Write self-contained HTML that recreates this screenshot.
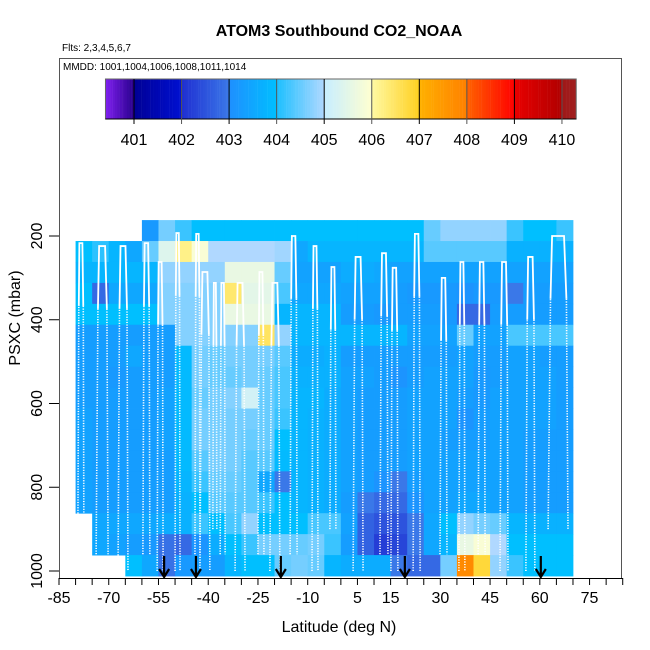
<!DOCTYPE html>
<html><head><meta charset="utf-8"><style>
html,body{margin:0;padding:0;background:#fff;}
svg{display:block;font-family:"Liberation Sans",Arial,sans-serif;}
</style></head><body>
<svg id="chart" width="650" height="650" viewBox="0 0 650 650">
<text x="339" y="36" text-anchor="middle" font-size="16" font-weight="bold">ATOM3 Southbound CO2_NOAA</text>
<text x="62" y="51" font-size="10">Flts: 2,3,4,5,6,7</text>
<text x="63" y="70" font-size="10">MMDD: 1001,1004,1006,1008,1011,1014</text>
<g id="heat"></g>
<g id="prof"></g>
<g id="arrows"></g>
<g id="cbar"></g>
<rect x="59.5" y="58.5" width="562" height="520" fill="none" stroke="#555" stroke-width="1"/>
<g id="xaxis"></g>
<g id="yaxis"></g>
<text x="339" y="632" text-anchor="middle" font-size="16">Latitude (deg N)</text>
<text transform="translate(20,318) rotate(-90)" text-anchor="middle" font-size="16">PSXC (mbar)</text>
</svg>
<script>
const latStart=-80, latStep=5;
const pStart=162, pStep=50;
const N=null;
const row0=[N,N,N,N,403.2,404.6,404.2,404,404,404,404,404,404,404,404,404,404,404,404,404,404,404.5,404.8,404.8,404.8,404.8,404.2,404,404,404.2];
const row1=[404,404.1,403.8,403.5,404.5,405.4,406.2,405.9,405,405,405,405,404.9,403.5,403.8,403.8,403.8,403.8,403.8,403.8,403.8,404.4,404.4,404.4,404.4,404.4,403.7,403.7,403.7,403.7];
const row2=[403.8,403.8,403.8,403.8,403.8,404.8,404.8,404.8,404.8,405.6,405.6,405.6,404.5,403.4,403.4,403.4,403.6,403.6,403.5,403.4,403.4,403.4,403.4,403.4,403.4,403.4,403.4,403.4,403.4,403.4];
const row3=[404,402.8,403.5,403.5,403.5,404.7,404.7,404.7,404.7,406.4,405.5,405.5,404.3,403.5,403.5,403.5,403.4,403.4,403.4,403.3,403.2,403.2,403.2,403.1,403.2,403.2,403.0,403.3,403.3,403.3];
const row4=[404,404,404,404,404,404.7,404.7,404.7,404.7,405.6,405.6,405.6,403.8,403.8,403.8,403.8,403.3,403.3,403.2,403.3,403.3,403.3,403.2,402.8,402.8,403.3,403.3,403.3,403.3,403.3];
const row5=[403.3,403.3,403.3,403.3,403.3,403.3,404.7,404.7,404.7,404.7,404.7,406.5,404.8,403.8,403.8,403.8,403.8,403.8,403.8,403.8,403.4,403.4,403.4,404.5,403.4,403.4,404.3,404.3,404.3,404.3];
const row6=[403.3,403.3,403.3,403.5,403.3,403.3,403.9,404.6,404.5,404.6,404.6,404.6,404.4,403.6,403.6,403.7,403.3,403.3,403.3,403.3,403.3,403.3,403.3,403.4,403.3,403.3,403.4,403.4,403.3,403.3];
const row7=[403.3,403.3,403.2,403.3,403.3,403.3,403.9,404.6,404.5,404.5,404.6,404.5,404.3,403.7,403.7,403.7,403.4,403.4,403.3,403.1,403.3,403.4,403.4,403.4,403.2,403.3,403.4,403.4,403.4,403.3];
const row8=[403.3,403.3,403.3,403.3,403.3,403.4,403.9,404.5,404.6,404.7,405.2,404.5,404.3,403.8,403.8,403.6,403.4,403.3,403.3,403.3,403.4,403.4,403.4,403.3,403.2,403.4,403.4,403.4,403.4,403.3];
const row9=[403.4,403.3,403.3,403.3,403.3,403.4,403.9,404.6,404.6,404.6,404.6,404.5,404.2,403.8,403.7,403.6,403.4,403.3,403.3,403.3,403.4,403.4,403.4,403.1,403.3,403.4,403.4,403.4,403.4,403.3];
const row10=[403.4,403.3,403.3,403.3,403.3,403.4,403.9,404.6,404.6,404.6,404.5,404.5,404,403.8,403.7,403.6,403.4,403.3,403.3,403.3,403.4,403.4,403.3,403.3,403.3,403.4,403.4,403.3,403.3,403.3];
const row11=[403.4,403.3,403.3,403.3,403.3,403.3,403.9,404.4,404.6,404.6,404.4,404.4,403.9,403.8,403.7,403.6,403.4,403.3,403.3,403.3,403.4,403.4,403.4,403.4,403.4,403.4,403.4,403.3,403.3,403.3];
const row12=[403.4,403.3,403.3,403.3,403.3,403.3,403.8,404.2,404.5,404.5,404.4,403.5,403.0,403.8,403.7,403.6,403.4,403.3,403.1,403.0,403.3,403.4,403.4,403.4,403.4,403.4,403.4,403.3,403.3,403.3];
const row13=[403.4,403.3,403.3,403.3,403.3,403.3,403.7,404.0,404.4,404.4,404.4,404.2,404.0,403.8,403.7,403.6,403.3,403.0,402.8,402.8,403.1,403.4,403.4,403.5,403.5,403.4,403.4,403.3,403.3,403.3];
const row14=[N,403.5,403.5,403.5,403.5,403.6,403.7,404.2,404.0,404.3,404.8,404.0,404.0,404.0,404.3,404.3,403.4,402.7,402.5,402.5,403.0,403.5,404.0,404.8,404.6,404.5,403.8,403.7,403.7,403.7];
const row15=[N,403.5,403.4,403.3,403.2,402.9,402.8,403.1,403.6,404.0,404.2,404.6,404.6,404.5,404.6,404.2,403.3,402.7,402.2,402.3,403.0,403.5,403.8,405.6,405.9,405.0,404.0,404.0,404.0,404.0];
const row16=[N,N,N,404,403.5,402.9,403.2,403.3,403.3,403.8,404,404,404.5,404.6,404.5,403.8,403.6,403.6,403.6,403.0,402.8,402.8,404.6,407.8,406.8,404.8,404.2,404,404,404];
const rows=[row0,row1,row2,row3,row4,row5,row6,row7,row8,row9,row10,row11,row12,row13,row14,row15,row16];

const profA=[-79.3,-73.8,-67.2,-59.7,-55.4,-50,-44,-42.5,-38.6,-36.4,-31.9,-25,-21.4,-15.3,-8.7,-3.3,3.7,11.8,15.1,21.8,29.9,35.6,41.4,48,55.8,62.5];
const profB=[-77.5,-70.2,-64.2,-57.6,-53.6,-48.5,-42.5,-39.5,-37.4,-34.9,-28.9,-23.2,-18.4,-13.2,-6.9,-1.5,6.7,14.2,17.2,23.9,32,37.4,43.5,50.4,58.5,68.5];
const profTop=[217,224,224,217,262,193,195,286,312,312,312,286,312,200,224,274,250,241,276,195,300,262,262,262,250,200];
const profBot=[900,960,1000,960,1000,1000,960,1000,900,960,1000,960,1000,960,1000,900,1000,960,1000,1000,960,1000,960,1000,1000,900];

const arrowLat=[-53.3,-43.7,-18.1,19.3,60.3];
const xTicks=[-85,-70,-55,-40,-25,-10,5,15,30,45,60,75];
const yTicks=[200,400,600,800,1000];
const cbTicks=[401,402,403,404,405,406,407,408,409,410];

const NS="http://www.w3.org/2000/svg";
const X=lat=>59+(lat+85)*3.316;
const Y=p=>236+(p-200)*0.41875;
const CX=v=>134+(v-401)*47.55;
function mk(tag,attrs,parent){const e=document.createElementNS(NS,tag);for(const k in attrs)e.setAttribute(k,attrs[k]);parent.appendChild(e);return e;}
const stops=[[400.4,[128,32,240]],[401,[40,0,140]],[401.02,[0,0,150]],[402,[0,16,210]],[402.02,[32,48,210]],[403,[58,120,232]],[403.02,[30,144,255]],[404,[0,191,255]],[404.02,[32,192,255]],[405,[176,216,255]],[405.02,[200,238,255]],[406,[255,255,208]],[406.02,[255,248,160]],[407,[255,208,32]],[407.02,[255,176,0]],[408,[255,128,0]],[408.02,[255,96,0]],[409,[255,0,0]],[409.02,[232,0,0]],[410,[176,0,0]],[410.02,[160,24,24]],[410.3,[160,32,32]]];
function col(v){if(v<=stops[0][0])return 'rgb('+stops[0][1]+')';for(let i=1;i<stops.length;i++){if(v<=stops[i][0]){const a=stops[i-1],b=stops[i];const t=(v-a[0])/(b[0]-a[0]);const c=a[1].map((x,j)=>Math.round(x+(b[1][j]-x)*t));return 'rgb('+c.join(',')+')';}}return 'rgb('+stops[stops.length-1][1]+')';}

const heat=document.getElementById('heat');
rows.forEach((r,ri)=>{r.forEach((v,ci)=>{if(v===null)return;
 const x0=X(latStart+ci*latStep),x1=X(latStart+(ci+1)*latStep);
 const y0=Y(pStart+ri*pStep),y1=Y(pStart+(ri+1)*pStep);
 const c=mk('rect',{x:x0.toFixed(2),y:y0.toFixed(2),width:(x1-x0+0.4).toFixed(2),height:(y1-y0+0.4).toFixed(2),fill:col(v)},heat);
 
 
});});

const prof=document.getElementById('prof');
profA.forEach((a,i)=>{const b=profB[i],t=profTop[i],bt=profBot[i];
 const d=Math.min(1.2,(b-a)/4);
 const mid=Math.min(bt,t+150);
 const up=mk('path',{d:`M${X(a)},${Y(bt)} L${X(a+d*0.6)},${Y(mid)}`,stroke:'#fff','stroke-width':1.6,'stroke-dasharray':'1.2 1.4',fill:'none'},prof);
 
 
 const top=mk('path',{d:`M${X(a+d*0.6)},${Y(mid)} L${X(a+d)},${Y(t)} L${X(b-d)},${Y(t)} L${X(b-d*0.4)},${Y(mid)}`,stroke:'#fff','stroke-width':1.8,fill:'none'},prof);
 
 
 const dn=mk('path',{d:`M${X(b-d*0.4)},${Y(mid)} L${X(b)},${Y(bt)}`,stroke:'#fff','stroke-width':1.6,'stroke-dasharray':'1.2 1.4',fill:'none'},prof);
 
 
});

const ar=document.getElementById('arrows');
arrowLat.forEach(l=>{const x=X(l);
 const g=mk('path',{d:`M${x},556 L${x},577 M${x-5},569 L${x},577 L${x+5},569`,stroke:'#000','stroke-width':2.2,fill:'none'},ar);
 
 
});

const cb=document.getElementById('cbar');
for(let v=400.4;v<410.3;v+=0.05){const r=mk('rect',{x:CX(v).toFixed(2),y:79,width:2.6,height:40,fill:col(v+0.025)},cb);
 
 }
mk('rect',{x:CX(400.4),y:79,width:CX(410.3)-CX(400.4),height:40,fill:'none',stroke:'#666','stroke-width':1},cb);
mk('line',{x1:CX(400.4),x2:CX(410.3),y1:119,y2:119,stroke:'#000','stroke-width':1},cb);
cbTicks.forEach(v=>{const x=CX(v);
 mk('line',{x1:x,x2:x,y1:79,y2:124,stroke:(v%2?'#000':'#555'),'stroke-width':1},cb);
 const t=mk('text',{x:x,y:145,'text-anchor':'middle','font-size':16},cb);t.textContent=v;
 
 });

const xa=document.getElementById('xaxis');
mk('line',{x1:59,x2:623,y1:578.5,y2:578.5,stroke:'#000'},xa);
for(let l=-85;l<=85;l+=5){mk('line',{x1:X(l),x2:X(l),y1:578,y2:585,stroke:'#000'},xa);}
xTicks.forEach(l=>{const t=mk('text',{x:X(l),y:603,'text-anchor':'middle','font-size':16},xa);t.textContent=l;
 
 });
const ya=document.getElementById('yaxis');
yTicks.forEach(p=>{const y=Y(p);mk('line',{x1:49,x2:59,y1:y,y2:y,stroke:'#000'},ya);
 const t=mk('text',{transform:`translate(42,${y}) rotate(-90)`,'text-anchor':'middle','font-size':16},ya);t.textContent=p;
 
 });
</script>
</body></html>
